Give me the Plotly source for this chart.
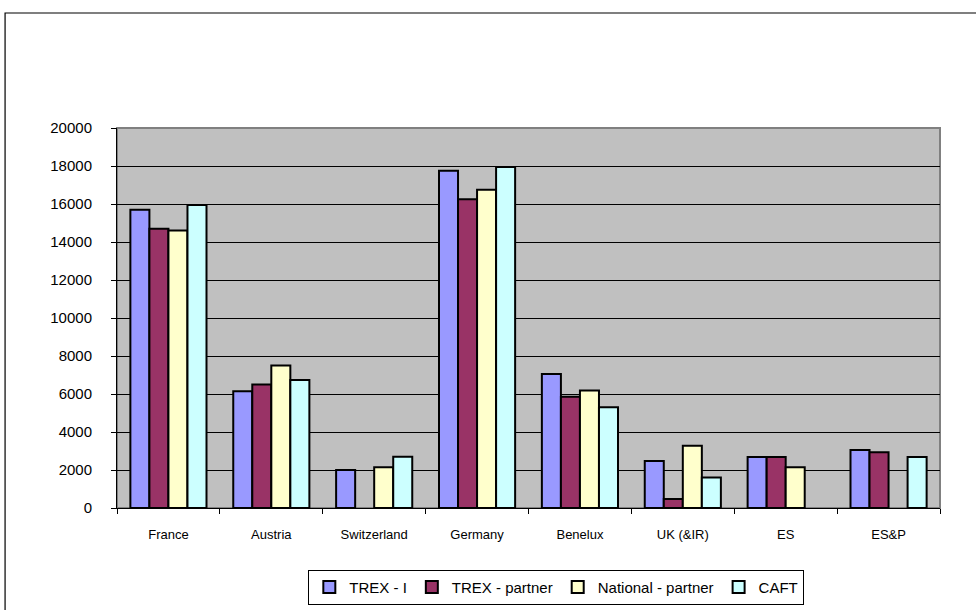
import plotly.graph_objects as go

categories = ["France", "Austria", "Switzerland", "Germany", "Benelux", "UK (&IR)", "ES", "ES&P"]
trex_i = [15700, 6150, 2000, 17750, 7050, 2480, 2680, 3050]
trex_partner = [14700, 6500, None, 16250, 5850, 470, 2680, 2930]
national_partner = [14600, 7500, 2140, 16750, 6180, 3280, 2140, None]
caft = [15950, 6740, 2700, 17950, 5300, 1600, None, 2680]

series = [
    ("TREX - I", trex_i, "#9999FF"),
    ("TREX - partner", trex_partner, "#993366"),
    ("National - partner", national_partner, "#FFFFCC"),
    ("CAFT", caft, "#CCFFFF"),
]

fig = go.Figure()
for name, vals, col in series:
    fig.add_trace(go.Bar(
        x=categories, y=vals, name=name,
        marker=dict(color=col, line=dict(color="black", width=2)),
    ))

fig.update_layout(
    width=976, height=610,
    margin=dict(l=117, r=36, t=128, b=102, autoexpand=False),
    paper_bgcolor="white",
    plot_bgcolor="#C0C0C0",
    barmode="group",
    bargap=0.26,
    bargroupgap=0,
    font=dict(family="Liberation Sans, Arial, sans-serif", color="black", size=13),
    showlegend=True,
    legend=dict(
        orientation="h",
        xref="container", yref="container",
        x=0.57, xanchor="center",
        y=0.066, yanchor="top",
        bordercolor="black", borderwidth=1,
        font=dict(size=15),
        itemwidth=30,
        tracegroupgap=0,
    ),
    shapes=[
        dict(type="rect", xref="paper", yref="paper",
             x0=-0.136, x1=1.2, y0=-0.4, y1=1.3026,
             line=dict(color="black", width=1.2), layer="below"),
        dict(type="rect", xref="paper", yref="paper",
             x0=0, x1=1, y0=0, y1=1,
             line=dict(color="#808080", width=2), layer="below"),
    ],
)

fig.update_xaxes(
    type="category",
    showline=True, linecolor="black", linewidth=1,
    ticks="outside", ticklen=5, tickcolor="black",
    tickson="boundaries",
    showgrid=False,
    tickfont=dict(size=13),
    ticklabelstandoff=14,
    mirror=False,
    automargin=False,
)
fig.update_yaxes(
    range=[0, 20000], dtick=2000,
    showline=True, linecolor="black", linewidth=1,
    ticks="outside", ticklen=5, tickcolor="black",
    showgrid=True, gridcolor="black", gridwidth=1,
    zeroline=False,
    tickformat="d",
    tickfont=dict(size=15),
    ticklabelstandoff=16,
    automargin=False,
)

fig.write_html("out.html")
